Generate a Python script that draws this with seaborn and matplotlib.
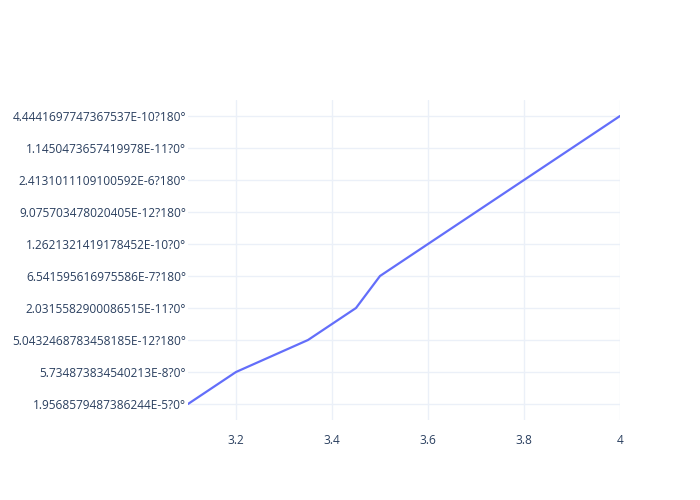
import numpy as np
import pandas as pd
import matplotlib
matplotlib.use("Agg")
import matplotlib.pyplot as plt
import seaborn as sns

# category labels on the y axis, bottom to top
y_labels = [
    "1.9568579487386244E-5?0°",
    "5.734873834540213E-8?0°",
    "5.0432468783458185E-12?180°",
    "2.0315582900086515E-11?0°",
    "6.541595616975586E-7?180°",
    "1.2621321419178452E-10?0°",
    "9.075703478020405E-12?180°",
    "2.4131011109100592E-6?180°",
    "1.1450473657419978E-11?0°",
    "4.4441697747367537E-10?180°",
]
x_values = [3.1, 3.2, 3.35, 3.45, 3.5, 3.6, 3.7, 3.8, 3.9, 4.0]

df = pd.DataFrame({"x": x_values,
                   "y": pd.Categorical(y_labels, categories=y_labels)})
df["y_code"] = df["y"].cat.codes

sns.set_style("white")
plt.rcParams["font.family"] = ["Open Sans", "DejaVu Sans"]

fig = plt.figure(figsize=(7, 5), dpi=100)
ax = fig.add_axes([188 / 700, 0.16, (620 - 188) / 700, 0.64])

grid_col = "#ebf0f8"
text_col = "#2a3f5f"

sns.lineplot(data=df, x="x", y="y_code", sort=False, estimator=None,
             color="#636efa", linewidth=1.6, ax=ax)

ax.set_xlim(3.1, 4.0)
ax.set_ylim(-0.5, len(y_labels) - 0.5)
ax.set_xticks([3.2, 3.4, 3.6, 3.8, 4.0])
ax.set_xticklabels(["3.2", "3.4", "3.6", "3.8", "4"])
ax.set_yticks(range(len(y_labels)))
ax.set_yticklabels(y_labels)
ax.tick_params(axis="both", length=0, labelsize=8.6, labelcolor=text_col)
ax.tick_params(axis="y", pad=1.5)
ax.tick_params(axis="x", pad=10)
ax.grid(True, color=grid_col, linewidth=1)
ax.set_axisbelow(True)
for s in ax.spines.values():
    s.set_visible(False)
ax.set_xlabel("")
ax.set_ylabel("")

fig.savefig("out.png", dpi=100, facecolor="white")
